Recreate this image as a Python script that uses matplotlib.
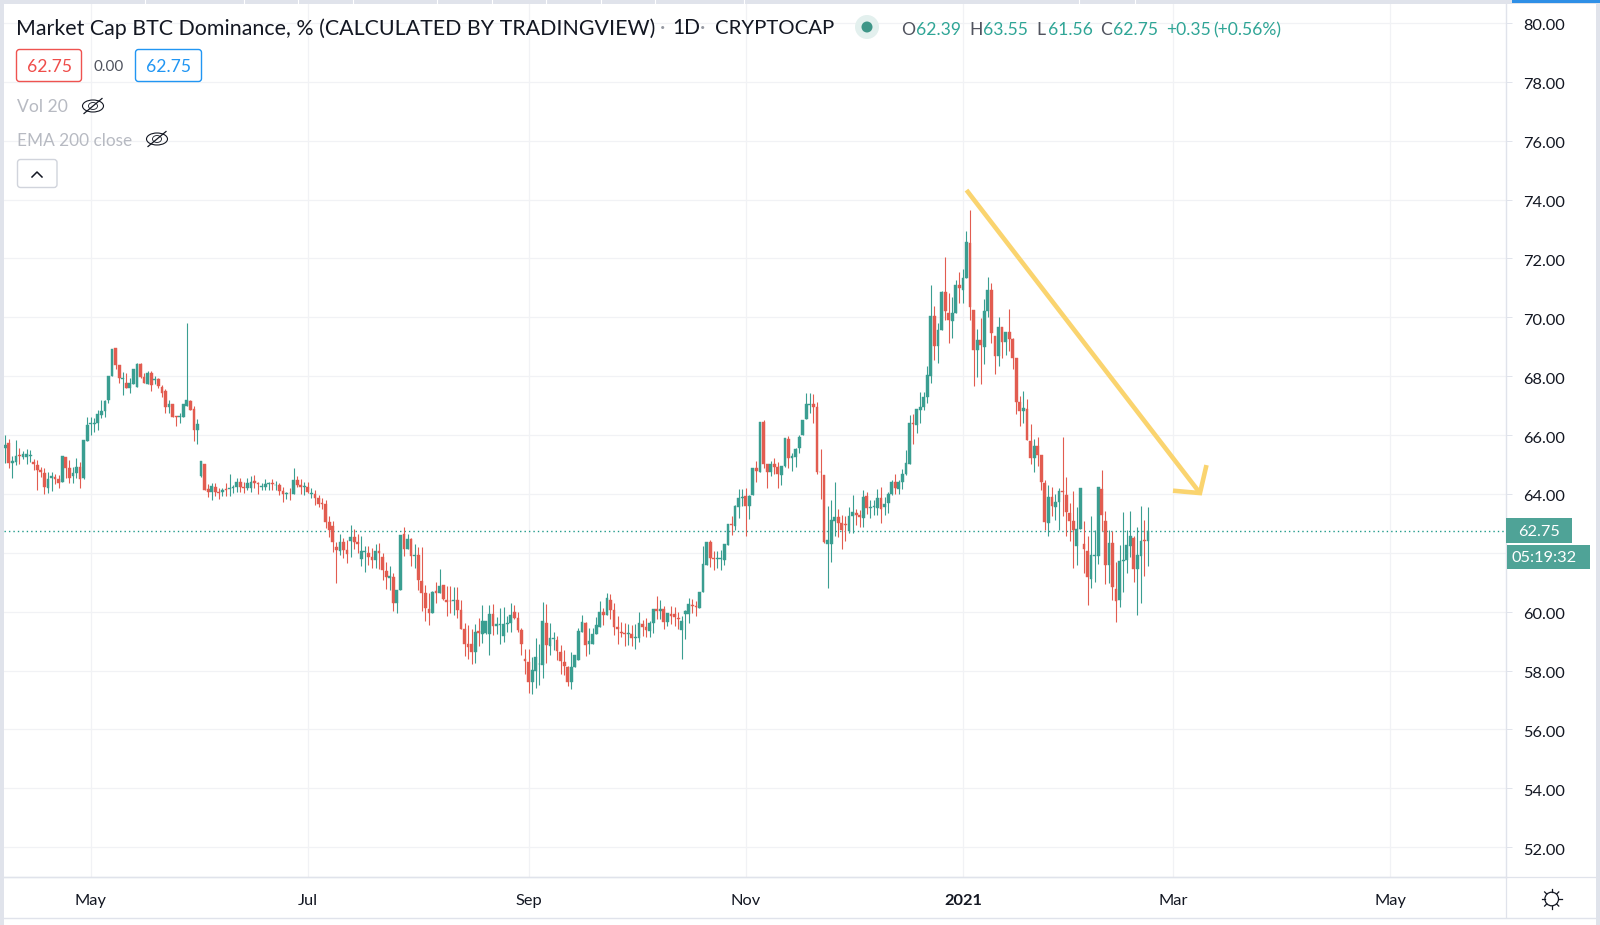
"""Recreate the TradingView BTC dominance daily chart with a hand drawn down arrow."""

import matplotlib
matplotlib.use("Agg")
import matplotlib.pyplot as plt
import matplotlib.dates as mdates
from matplotlib.patches import Circle, Ellipse, FancyBboxPatch, Rectangle
from matplotlib.transforms import ScaledTranslation
import numpy as np
import pandas as pd

FONT = "Lato"
GREEN = "#3a9e91"
RED = "#e25c50"
GRID = "#f1f2f5"
BORDER = "#e0e3eb"
LABEL_GREEN = "#4fa397"

START_DATE = "2020-04-07"

opens = [
    65.57, 65.72, 65.06, 65.10, 65.33, 65.26, 65.25, 65.30, 65.10, 64.97,
    64.82, 64.72, 64.20, 64.55, 64.58, 64.50, 64.40, 65.25, 64.87, 64.60,
    64.70, 64.93, 64.53, 65.80, 66.38, 66.38, 66.40, 66.68, 66.80, 67.20,
    68.00, 68.95, 68.38, 67.92, 67.78, 67.60, 67.73, 67.62, 68.43, 67.98,
    67.74, 68.10, 67.88, 67.90, 67.62, 67.50, 66.94, 67.05, 66.65, 66.60,
    66.60, 67.00, 67.17, 66.87, 66.17, 64.60, 65.02, 64.17, 64.05, 64.25,
    64.07, 64.08, 64.17, 64.16, 64.21, 64.23, 64.41, 64.25, 64.21, 64.21,
    64.44, 64.38, 64.25, 64.25, 64.34, 64.36, 64.29, 64.30, 64.10, 63.99,
    64.04, 64.00, 64.47, 64.30, 64.25, 64.25, 64.00, 64.00, 63.87, 63.70,
    63.65, 63.06, 62.91, 62.19, 62.07, 62.36, 62.10, 62.40, 62.55, 62.38,
    61.79, 62.04, 62.00, 61.85, 61.74, 62.07, 61.85, 61.38, 61.16, 61.19,
    60.29, 60.74, 62.64, 62.13, 62.47, 61.89, 61.93, 61.05, 60.63, 60.09,
    59.97, 60.70, 60.65, 60.91, 60.40, 60.38, 60.36, 60.40, 60.06, 59.41,
    58.90, 58.90, 58.62, 59.34, 59.24, 59.27, 59.24, 59.91, 59.53, 59.55,
    59.19, 59.58, 59.63, 59.98, 59.78, 59.38, 58.38, 58.30, 57.62, 58.00,
    58.22, 58.19, 59.60, 58.85, 59.06, 59.04, 58.64, 58.30, 58.13, 57.62,
    58.13, 58.36, 59.32, 59.60, 58.90, 58.90, 59.24, 59.49, 59.98, 59.89,
    60.40, 60.06, 59.47, 59.32, 59.29, 59.24, 59.26, 59.10, 59.12, 59.59,
    59.49, 59.34, 59.63, 60.10, 60.02, 60.08, 59.66, 59.93, 59.93, 59.78,
    59.37, 59.91, 59.91, 60.24, 60.21, 60.13, 60.67, 61.60, 62.36, 61.83,
    61.79, 61.78, 61.77, 62.28, 62.99, 62.92, 63.55, 63.87, 63.94, 63.58,
    63.97, 64.87, 64.76, 66.43, 65.01, 64.76, 65.02, 64.93, 64.65, 64.95,
    65.86, 65.21, 65.25, 65.55, 66.00, 66.54, 67.02, 67.05, 66.96, 64.76,
    64.65, 62.31, 62.30, 63.07, 63.20, 63.01, 62.99, 62.73, 63.26, 63.35,
    63.28, 63.18, 63.94, 63.52, 63.55, 63.52, 63.85, 63.54, 63.69, 64.00,
    64.42, 64.17, 64.42, 64.68, 65.02, 66.42, 66.34, 66.85, 66.96, 67.30,
    68.00, 70.06, 69.02, 69.56, 70.86, 70.15, 69.87, 70.13, 71.11, 70.91,
    71.34, 72.53, 70.26, 68.90, 69.24, 68.98, 70.20, 70.91, 69.38, 68.70,
    69.67, 69.15, 69.49, 69.25, 68.60, 67.13, 66.81, 66.87, 65.79, 65.22,
    65.62, 65.31, 64.37, 63.01, 63.90, 63.56, 63.72, 64.09, 63.98, 63.35,
    63.07, 62.24, 62.81, 62.31, 62.05, 61.12, 61.88, 61.90, 64.18, 63.09,
    61.58, 62.34, 60.77, 60.39, 61.71, 61.74, 62.22, 62.50, 61.45, 61.88,
    62.42, 62.39,
]

closes = [
    65.66, 65.06, 65.13, 65.29, 65.29, 65.34, 65.36, 65.32, 65.00, 64.82,
    64.76, 64.25, 64.50, 64.60, 64.50, 64.38, 65.30, 64.87, 64.55, 64.72,
    64.93, 64.50, 65.84, 66.34, 66.40, 66.42, 66.70, 66.83, 67.16, 68.00,
    68.92, 68.38, 67.93, 67.95, 67.60, 67.76, 68.23, 68.40, 67.98, 67.76,
    68.12, 67.70, 67.90, 67.65, 67.44, 66.96, 67.06, 66.63, 66.60, 66.65,
    67.04, 67.20, 66.85, 66.17, 66.38, 65.12, 64.13, 64.05, 64.27, 64.08,
    64.04, 64.13, 64.13, 64.21, 64.25, 64.41, 64.25, 64.19, 64.38, 64.41,
    64.38, 64.34, 64.27, 64.34, 64.36, 64.33, 64.31, 64.11, 63.99, 64.04,
    64.02, 64.47, 64.30, 64.25, 64.28, 64.05, 64.04, 63.87, 63.66, 63.66,
    63.06, 62.78, 62.36, 62.10, 62.38, 62.10, 61.96, 62.55, 62.38, 62.29,
    62.07, 62.06, 61.87, 61.74, 62.06, 62.00, 61.42, 61.17, 61.20, 60.29,
    60.74, 62.61, 62.13, 62.47, 61.89, 61.93, 61.08, 60.63, 60.12, 59.97,
    60.68, 60.65, 60.89, 60.43, 60.34, 60.35, 60.40, 60.06, 59.41, 58.90,
    58.81, 58.62, 59.32, 59.27, 59.68, 59.68, 59.91, 59.53, 59.58, 59.58,
    59.58, 59.63, 59.89, 59.78, 59.38, 58.90, 58.31, 57.62, 58.02, 58.45,
    58.24, 59.67, 58.87, 59.10, 59.10, 58.68, 58.33, 58.16, 57.62, 58.13,
    58.53, 59.36, 59.64, 58.87, 59.02, 59.24, 59.55, 60.00, 59.89, 60.46,
    60.06, 59.49, 59.41, 59.29, 59.24, 59.27, 59.10, 59.15, 59.60, 59.48,
    59.38, 59.60, 60.08, 60.02, 60.10, 59.66, 59.96, 59.87, 59.83, 59.74,
    59.68, 60.02, 60.25, 60.19, 60.15, 60.67, 61.63, 62.37, 61.83, 61.79,
    61.81, 61.81, 62.30, 62.99, 62.96, 63.58, 63.87, 63.91, 63.58, 63.94,
    64.87, 64.78, 66.43, 65.02, 64.76, 65.02, 64.93, 64.68, 64.96, 65.89,
    65.21, 65.29, 65.54, 65.92, 66.51, 67.04, 67.05, 66.96, 64.76, 64.73,
    62.36, 62.45, 63.12, 63.21, 63.03, 62.79, 62.96, 63.26, 63.37, 63.29,
    63.21, 63.91, 63.52, 63.55, 63.58, 63.85, 63.48, 63.67, 64.00, 64.42,
    64.20, 64.42, 64.68, 65.04, 66.42, 66.37, 66.87, 66.96, 67.28, 68.03,
    70.06, 69.02, 69.56, 70.86, 70.21, 69.90, 70.15, 71.11, 70.98, 71.34,
    72.55, 70.35, 68.88, 69.24, 69.05, 70.23, 70.92, 69.45, 68.70, 69.66,
    69.15, 69.50, 69.27, 68.61, 67.13, 66.81, 66.92, 65.82, 65.22, 65.62,
    65.31, 64.40, 63.04, 63.90, 63.58, 63.73, 64.11, 64.06, 63.38, 63.09,
    62.79, 62.81, 64.20, 62.13, 61.18, 61.91, 61.93, 64.24, 63.30, 61.60,
    62.34, 60.84, 60.35, 61.71, 61.74, 62.26, 62.56, 61.45, 61.92, 62.41,
    62.39, 62.75,
]

highs = [
    66.00, 65.85, 65.30, 65.83, 65.55, 65.45, 65.52, 65.50, 65.19, 65.15,
    64.90, 64.87, 64.73, 64.73, 64.68, 64.64, 65.30, 65.27, 65.15, 64.93,
    65.21, 65.10, 65.84, 66.60, 66.60, 66.57, 66.85, 67.20, 67.20, 68.00,
    68.92, 68.95, 68.38, 68.15, 68.12, 67.93, 68.23, 68.44, 68.46, 68.10,
    68.16, 68.18, 68.00, 67.93, 67.70, 67.57, 67.20, 67.07, 66.65, 66.74,
    67.04, 69.82, 67.20, 66.97, 66.53, 65.12, 65.02, 64.34, 64.36, 64.36,
    64.19, 64.19, 64.36, 64.68, 64.30, 64.53, 64.53, 64.39, 64.53, 64.61,
    64.64, 64.42, 64.36, 64.50, 64.42, 64.50, 64.45, 64.36, 64.24, 64.08,
    64.19, 64.87, 64.62, 64.50, 64.39, 64.39, 64.20, 64.15, 63.97, 63.85,
    63.80, 63.25, 63.09, 62.38, 62.64, 62.50, 62.44, 62.95, 62.80, 62.64,
    62.57, 62.23, 62.23, 62.15, 62.30, 62.32, 61.98, 61.68, 61.55, 61.33,
    60.74, 62.61, 62.87, 62.64, 62.52, 62.30, 62.19, 62.19, 60.91, 60.63,
    60.70, 61.02, 61.44, 60.91, 60.87, 60.87, 60.83, 60.83, 60.40, 59.60,
    59.55, 59.41, 59.58, 59.78, 60.23, 59.68, 60.23, 60.25, 59.83, 60.12,
    60.15, 59.87, 60.29, 60.23, 59.98, 59.45, 58.75, 58.75, 58.47, 59.12,
    58.90, 60.34, 60.25, 59.60, 59.30, 59.19, 58.87, 58.70, 58.15, 58.64,
    58.53, 59.44, 59.89, 59.64, 59.44, 59.44, 59.83, 60.38, 60.12, 60.65,
    60.60, 60.29, 59.87, 59.66, 59.60, 59.58, 59.55, 59.58, 59.98, 59.72,
    59.79, 59.68, 60.08, 60.55, 60.39, 60.21, 59.96, 60.21, 60.17, 60.00,
    59.85, 60.05, 60.45, 60.44, 60.35, 60.67, 62.22, 62.37, 62.45, 62.07,
    62.05, 62.11, 62.30, 62.99, 63.24, 63.63, 64.16, 64.16, 64.20, 63.98,
    64.87, 65.12, 66.45, 66.51, 65.02, 65.13, 65.21, 65.10, 64.96, 65.89,
    65.98, 65.38, 65.57, 66.00, 66.51, 67.44, 67.44, 67.41, 67.11, 65.52,
    64.65, 63.60, 63.78, 64.40, 63.49, 63.29, 63.26, 63.55, 63.97, 63.49,
    63.47, 64.14, 64.06, 63.80, 63.80, 64.16, 64.25, 63.90, 64.05, 64.48,
    64.68, 64.48, 64.84, 65.49, 66.68, 66.71, 66.87, 67.47, 67.47, 68.34,
    71.09, 70.40, 69.79, 70.88, 72.05, 70.81, 70.69, 71.26, 71.54, 71.64,
    72.92, 73.64, 70.26, 69.61, 69.98, 70.63, 71.36, 71.17, 69.38, 70.00,
    69.67, 69.50, 70.28, 69.30, 68.60, 67.32, 67.51, 67.24, 66.38, 65.88,
    65.94, 65.33, 64.49, 64.32, 64.24, 64.01, 64.20, 65.94, 64.58, 63.69,
    64.09, 63.55, 64.20, 63.07, 62.56, 63.26, 62.79, 64.24, 64.80, 63.41,
    62.79, 62.73, 61.68, 62.28, 63.37, 62.79, 63.41, 62.56, 62.88, 63.58,
    63.13, 63.55,
]

lows = [
    65.06, 64.89, 64.53, 64.98, 65.00, 65.17, 65.00, 65.10, 64.80, 64.13,
    64.59, 64.00, 64.02, 64.10, 64.35, 64.19, 64.40, 64.53, 64.38, 64.36,
    64.53, 64.20, 64.50, 65.80, 66.00, 66.10, 66.17, 66.57, 66.62, 67.08,
    68.00, 68.23, 67.76, 67.36, 67.60, 67.44, 67.73, 67.62, 67.95, 67.76,
    67.74, 67.50, 67.72, 67.60, 67.28, 66.76, 66.74, 66.63, 66.32, 66.42,
    66.60, 66.97, 66.85, 65.80, 65.69, 64.57, 64.13, 63.88, 63.79, 63.93,
    63.83, 63.93, 63.93, 63.93, 64.04, 64.08, 64.08, 64.02, 64.15, 64.08,
    64.20, 64.00, 64.13, 64.13, 64.13, 64.15, 64.13, 63.96, 63.74, 63.83,
    63.80, 64.00, 64.22, 64.00, 63.98, 64.02, 63.85, 63.62, 63.57, 63.48,
    62.86, 62.55, 62.04, 60.99, 61.93, 61.81, 61.67, 61.87, 62.13, 61.98,
    61.55, 61.36, 61.59, 61.47, 61.50, 61.44, 61.08, 60.76, 60.74, 60.02,
    59.97, 60.74, 61.90, 62.13, 61.55, 61.47, 60.74, 60.02, 59.70, 59.55,
    59.97, 60.29, 60.63, 60.40, 59.87, 59.95, 59.89, 59.78, 59.41, 58.50,
    58.38, 58.22, 58.27, 58.84, 58.95, 59.24, 58.53, 59.20, 59.24, 58.90,
    58.98, 59.32, 59.32, 59.75, 59.32, 58.53, 57.88, 57.23, 57.20, 57.40,
    57.50, 57.74, 58.25, 58.53, 58.70, 58.36, 57.88, 57.85, 57.48, 57.36,
    58.13, 58.36, 59.30, 58.50, 58.56, 58.90, 59.24, 59.49, 59.55, 59.89,
    59.74, 59.20, 58.90, 59.15, 58.84, 58.87, 58.85, 58.72, 58.98, 59.17,
    59.14, 59.14, 59.29, 59.74, 59.74, 59.40, 59.51, 59.57, 59.51, 59.40,
    58.38, 59.08, 59.62, 59.96, 59.87, 60.13, 60.67, 61.60, 61.51, 61.40,
    61.49, 61.41, 61.60, 62.28, 62.62, 62.79, 63.18, 63.58, 62.56, 63.16,
    63.97, 64.39, 64.76, 64.87, 64.20, 64.61, 64.68, 64.20, 64.29, 64.90,
    64.87, 64.79, 64.93, 65.40, 66.00, 66.54, 66.74, 66.42, 64.68, 63.83,
    62.33, 60.81, 61.68, 62.56, 62.53, 62.13, 62.39, 62.67, 62.67, 62.94,
    62.88, 62.88, 63.33, 63.18, 63.28, 63.28, 63.01, 63.28, 63.36, 63.95,
    64.00, 64.00, 64.17, 64.65, 65.02, 65.70, 66.06, 66.40, 66.85, 67.10,
    67.77, 68.56, 68.45, 69.56, 69.90, 69.11, 69.30, 70.13, 70.47, 70.47,
    71.34, 69.92, 67.66, 67.97, 67.74, 68.43, 70.00, 69.13, 68.09, 68.34,
    68.60, 68.73, 68.87, 68.26, 66.73, 66.30, 66.41, 65.82, 65.03, 64.74,
    64.94, 64.12, 62.79, 62.56, 63.24, 63.13, 62.79, 63.26, 62.58, 62.39,
    61.49, 61.60, 62.81, 61.32, 60.24, 60.81, 61.00, 61.63, 62.73, 60.95,
    60.97, 60.41, 59.64, 60.16, 60.66, 61.32, 61.86, 61.00, 59.90, 60.30,
    61.20, 61.56,
]

y_ticks = [52, 54, 56, 58, 60, 62, 64, 66, 68, 70, 72, 74, 76, 78, 80]
# the 62.00 label sits under the countdown box in the screenshot
y_tick_labels = ["52.00", "54.00", "56.00", "58.00", "60.00", "", "64.00", "66.00",
                 "68.00", "70.00", "72.00", "74.00", "76.00", "78.00", "80.00"]
x_tick_dates = ["2020-05-01", "2020-07-01", "2020-09-01", "2020-11-01",
                "2021-01-01", "2021-03-01", "2021-05-01"]
x_tick_labels = ["May", "Jul", "Sep", "Nov", "2021", "Mar", "May"]

last_price = 62.75

# the yellow hand drawn arrow: shaft, then barb - tip - barb
arrow_shaft_dates = ["2021-01-02 00:00", "2021-03-08 14:00"]
arrow_shaft_values = [74.32, 64.03]
arrow_head_dates = ["2021-03-01 00:00", "2021-03-08 14:00", "2021-03-10 10:00"]
arrow_head_values = [64.11, 64.03, 64.98]

# little separators left over from the toolbar above the chart, px
toolbar_ticks = [145, 244, 298, 353, 437, 492, 546, 601, 655, 744, 1079, 1135]


def draw_eye(ov, cx, cy):
    ov.add_patch(Ellipse((cx, cy), 21, 12, fill=False, ec="#131722", lw=0.8))
    ov.add_patch(Ellipse((cx, cy), 9, 7, fill=False, ec="#131722", lw=0.6))
    ov.plot([cx - 9, cx + 9], [cy + 7.5, cy - 7.5], color="#131722", lw=0.9)


def draw_gear(ov, cx, cy):
    ov.add_patch(Circle((cx, cy), 6.8, fill=False, ec="#131722", lw=0.9))
    for a in np.deg2rad(np.arange(0, 360, 45)):
        ov.plot([cx + 7 * np.cos(a), cx + 10 * np.cos(a)],
                [cy + 7 * np.sin(a), cy + 10 * np.sin(a)], color="#131722", lw=0.9)


def main():
    W, H = 1600, 925
    fig = plt.figure(figsize=(W / 100, H / 100), dpi=100, facecolor="white")

    # plot pane, positions measured in pixels from the screenshot
    left, right, top, bottom = 4, 1506.2, 4, 877
    ax = fig.add_axes([left / W, 1 - bottom / H, (right - left) / W, (bottom - top) / H])

    dates = pd.date_range(START_DATE, periods=len(closes), freq="D")
    o, h, l, c = map(np.asarray, (opens, highs, lows, closes))
    colors = [GREEN if up else RED for up in c >= o]

    ax.vlines(dates, l, h, colors=colors, lw=0.8, zorder=3)
    ax.bar(dates, np.abs(c - o), bottom=np.minimum(o, c), width=0.78, color=colors,
           edgecolor=colors, linewidth=0.3, zorder=4)

    ax.axhline(last_price, color="#1f9a8a", lw=1.0, ls=(0, (1.0, 2.2)), zorder=2)

    ax.plot(pd.to_datetime(arrow_shaft_dates), arrow_shaft_values, color="#fad46f", lw=3.3,
            solid_capstyle="butt", zorder=5)
    ax.plot(pd.to_datetime(arrow_head_dates), arrow_head_values, color="#fad46f", lw=3.3,
            solid_joinstyle="miter", solid_capstyle="butt", zorder=5)

    start = mdates.date2num(pd.Timestamp(START_DATE))
    ax.set_xlim(start - 0.35, start + 421.6)
    ax.set_ylim(50.99, 80.64)

    ax.yaxis.tick_right()
    ax.set_yticks(y_ticks)
    ax.set_yticklabels(y_tick_labels, fontfamily=FONT, fontsize=11.8, color="#131722")
    ax.set_xticks(pd.to_datetime(x_tick_dates))
    ax.set_xticklabels(x_tick_labels, fontfamily=FONT, fontsize=11.8, color="#131722")
    ax.get_xticklabels()[4].set_fontweight("bold")
    ax.tick_params(axis="x", length=0, pad=12.5)
    ax.tick_params(axis="y", length=4.5, width=0.7, color=BORDER, pad=8)
    # price labels sit 2px lower than matplotlib centres them
    nudge = ScaledTranslation(0, -0.02, fig.dpi_scale_trans)
    for lab in ax.get_yticklabels():
        lab.set_transform(lab.get_transform() + nudge)
    ax.grid(True, color=GRID, lw=0.9, zorder=0)
    ax.set_axisbelow(True)
    for side in ("top", "left"):
        ax.spines[side].set_visible(False)
    ax.spines["right"].set_color(BORDER)
    ax.spines["bottom"].set_color(BORDER)
    ax.spines["right"].set_linewidth(1)
    ax.spines["bottom"].set_linewidth(1)

    # UI chrome on a full figure overlay in pixel coordinates
    ov = fig.add_axes([0, 0, 1, 1], zorder=10)
    ov.set_xlim(0, W)
    ov.set_ylim(H, 0)
    ov.axis("off")

    ov.add_patch(Rectangle((0, 0), 4, H, color=BORDER, lw=0))
    ov.add_patch(Rectangle((1596, 0), 4, H, color=BORDER, lw=0))
    ov.add_patch(Rectangle((0, 0), W, 3.5, color=BORDER, lw=0))
    for x in toolbar_ticks:
        ov.plot([x, x], [0, 3.5], color="white", lw=0.8)
    ov.add_patch(Rectangle((1512, 0), 88, 2.5, color="#2e8fe6", lw=0))
    ov.plot([4, 1596], [877, 877], color=BORDER, lw=0.9)
    ov.plot([4, 1596], [917.5, 917.5], color=BORDER, lw=1)
    ov.plot([1506.2, 1506.2], [877, 917], color=BORDER, lw=0.9)

    # title row
    ink = "#131722"
    ov.text(16.5, 28.5, "Market Cap BTC Dominance, % (CALCULATED BY TRADINGVIEW)", fontfamily=FONT,
            fontsize=15.4, color=ink, va="center")
    ov.text(663, 28, "·", fontfamily=FONT, fontsize=15, color="#9598a1", va="center", ha="center")
    ov.text(672.5, 28.5, "1D", fontfamily=FONT, fontsize=15, color=ink, va="center")
    ov.text(703, 28, "·", fontfamily=FONT, fontsize=15, color="#9598a1", va="center", ha="center")
    ov.text(714.5, 28.5, "CRYPTOCAP", fontfamily=FONT, fontsize=14.7, color=ink, va="center")

    ov.add_patch(Circle((867, 27), 12, color="#e3f0ee", lw=0))
    ov.add_patch(Circle((867, 27), 5.5, color="#3f9688", lw=0))

    teal = "#2fa596"
    grey = "#50535e"
    ohlc_labels = [("O", 901, grey), ("62.39", 916, teal), ("H", 969, grey), ("63.55", 983, teal),
                   ("L", 1036, grey), ("61.56", 1048, teal), ("C", 1100, grey), ("62.75", 1113, teal),
                   ("+0.35", 1166, teal), ("(+0.56%)", 1213, teal)]
    for txt, x, col in ohlc_labels:
        ov.text(x, 30, txt, fontfamily=FONT, fontsize=12.6, color=col, va="center")

    # buy / sell boxes
    ov.add_patch(FancyBboxPatch((16.5, 49.5), 65, 32, boxstyle="round,pad=0,rounding_size=3",
                                fc="white", ec="#ef5350", lw=1))
    ov.add_patch(FancyBboxPatch((135.5, 49.5), 66, 32, boxstyle="round,pad=0,rounding_size=3",
                                fc="white", ec="#2196f3", lw=1))
    ov.text(49, 67.5, "62.75", fontfamily=FONT, fontsize=12.6, color="#ef4d4a", ha="center", va="center")
    ov.text(109, 67, "0.00", fontfamily=FONT, fontsize=11, color="#50535e", ha="center", va="center")
    ov.text(168.5, 67.5, "62.75", fontfamily=FONT, fontsize=12.6, color="#2196f3", ha="center", va="center")

    # collapsed indicators
    ov.text(17, 107, "Vol 20", fontfamily=FONT, fontsize=12.6, color="#b7bac2", va="center")
    draw_eye(ov, 93, 106)
    ov.text(17, 141, "EMA 200 close", fontfamily=FONT, fontsize=12.4, color="#b7bac2", va="center")
    draw_eye(ov, 157, 139)
    ov.add_patch(FancyBboxPatch((17.5, 159.5), 39.5, 28, boxstyle="round,pad=0,rounding_size=3",
                                fc="white", ec="#d1d4dc", lw=1))
    ov.plot([32, 37, 42], [177, 172, 177], color="#131722", lw=1.1)

    # price and countdown labels
    ov.add_patch(Rectangle((1506, 518), 66, 24.7, color=LABEL_GREEN, lw=0))
    ov.text(1518, 531.5, "62.75", fontfamily=FONT, fontsize=11.8, color="white", va="center")
    ov.add_patch(Rectangle((1507, 545), 83, 24.3, color=LABEL_GREEN, lw=0))
    ov.text(1512, 558.5, "05:19:32", fontfamily=FONT, fontsize=11.8, color="white", va="center")

    draw_gear(ov, 1551.7, 899)

    fig.savefig("out.png", dpi=100)


if __name__ == "__main__":
    main()
